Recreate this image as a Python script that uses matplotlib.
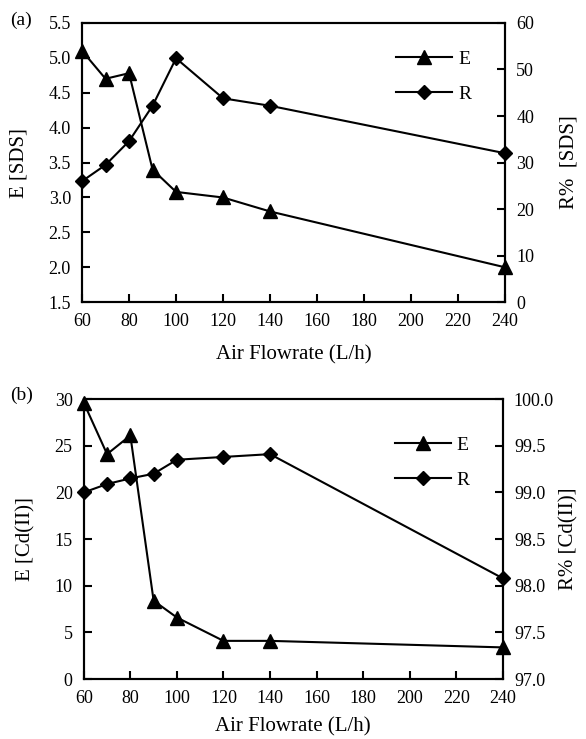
import numpy as np
import matplotlib
matplotlib.use('Agg')
import matplotlib.pyplot as plt

plt.rcParams['font.family'] = ['Liberation Serif', 'DejaVu Serif']
plt.rcParams['font.size'] = 13

# air flowrate (L/h)
flow = [60, 70, 80, 90, 100, 120, 140, 240]

# panel (a) SDS
E_sds = [5.1, 4.7, 4.78, 3.4, 3.08, 3.0, 2.8, 2.0]
R_sds = [26.0, 29.5, 34.6, 42.2, 52.4, 43.8, 42.2, 32.0]

# panel (b) Cd(II)
E_cd = [29.6, 24.1, 26.1, 8.4, 6.6, 4.1, 4.1, 3.4]
R_cd = [99.0, 99.09, 99.15, 99.2, 99.35, 99.38, 99.41, 98.08]

panels = [
    dict(pos=[0.140, 0.591, 0.722, 0.378], tag='(a)', tagy=0.973, E=E_sds, R=R_sds,
         ylim=(1.5, 5.5), yticks=np.arange(1.5, 5.51, 0.5), yfmt='%.1f',
         rlim=(0, 60), rticks=np.arange(0, 61, 10), rfmt='%d',
         ylab='E [SDS]', rlab='R%  [SDS]', leg=(0.70, 0.966), rpad=18, xpad=11),
    dict(pos=[0.143, 0.081, 0.715, 0.379], tag='(b)', tagy=0.465, E=E_cd, R=R_cd,
         ylim=(0, 30), yticks=np.arange(0, 31, 5), yfmt='%d',
         rlim=(97.0, 100.0), rticks=np.arange(97.0, 100.01, 0.5), rfmt='%.1f',
         ylab='E [Cd(II)]', rlab='R% [Cd(II)]', leg=(0.70, 0.93), rpad=4, xpad=7),
]

fig = plt.figure(figsize=(5.86, 7.39), dpi=100)

for p in panels:
    ax = fig.add_axes(p['pos'])
    ax2 = ax.twinx()
    lE, = ax.plot(flow, p['E'], color='black', lw=1.5, marker='^', ms=10,
                  clip_on=False, zorder=3)
    lR, = ax2.plot(flow, p['R'], color='black', lw=1.5, marker='D', ms=7.5,
                   clip_on=False, zorder=3)
    ax.set_xlim(60, 240)
    ax.set_xticks(np.arange(60, 241, 20))
    ax.set_ylim(*p['ylim'])
    ax.set_yticks(p['yticks'])
    ax.set_yticklabels([p['yfmt'] % v for v in p['yticks']])
    ax2.set_ylim(*p['rlim'])
    ax2.set_yticks(p['rticks'])
    ax2.set_yticklabels([p['rfmt'] % v for v in p['rticks']])
    for a in (ax, ax2):
        for s in a.spines.values():
            s.set_linewidth(1.5)
        a.tick_params(direction='in', length=6, width=1.5, labelsize=13, pad=8)
    ax.set_xlabel('Air Flowrate (L/h)', fontsize=15, labelpad=p['xpad'])
    ax.set_ylabel(p['ylab'], fontsize=15, labelpad=14)
    ax2.set_ylabel(p['rlab'], fontsize=15, labelpad=p['rpad'])
    fig.text(0.017, p['tagy'], p['tag'], fontsize=14, ha='left', va='center')
    ax2.legend([lE, lR], ['E', 'R'], loc='upper left', bbox_to_anchor=p['leg'],
               frameon=False, handlelength=2.9, labelspacing=0.9,
               handletextpad=0.3, fontsize=14)

fig.savefig('out.png', dpi=100)
